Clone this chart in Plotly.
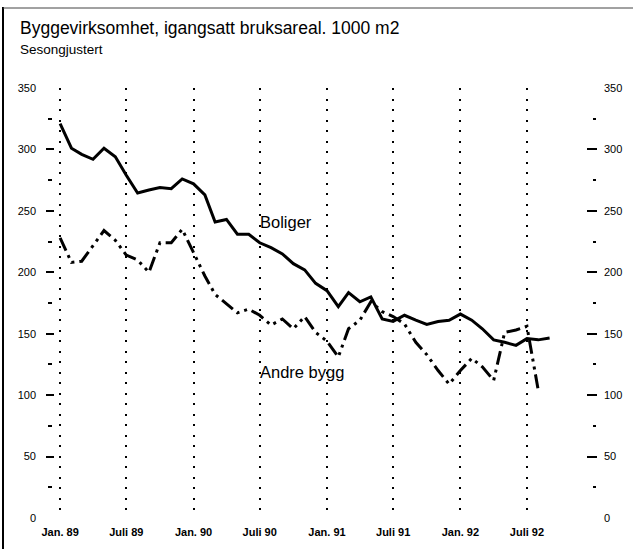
import plotly.graph_objects as go
import pandas as pd

# ---- data ----
months_boliger = pd.date_range("1989-01-01", periods=45, freq="MS")
months_andre = pd.date_range("1989-01-01", periods=44, freq="MS")

boliger = [321, 301, 296, 292, 301, 294, 279, 264.5, 267, 269, 268, 276, 272, 263,
           241, 243, 231, 231, 224, 220, 215, 207, 202, 191, 185, 172, 183.5, 176,
           180, 162, 160, 165, 161, 157.5, 160, 161, 166, 161, 154, 145, 143, 140.5,
           146, 145, 146.5]
andre_bygg = [228, 208, 209, 222, 234, 226, 214, 210, 200, 224, 224, 235, 216, 197,
              182, 174, 167, 170, 165, 157, 162, 154, 164, 151, 144, 131, 154, 161,
              176, 168, 164, 158, 143, 133, 120, 109, 120, 130, 123, 112, 151, 153,
              156, 104]

x_tickvals = ["1989-01-01", "1989-07-01", "1990-01-01", "1990-07-01",
              "1991-01-01", "1991-07-01", "1992-01-01", "1992-07-01"]
x_ticktext = ["Jan. 89", "Juli 89", "Jan. 90", "Juli 90",
              "Jan. 91", "Juli 91", "Jan. 92", "Juli 92"]
y_labels = [0, 50, 100, 150, 200, 250, 300, 350]
y_major = [50, 100, 150, 200, 250, 300]
y_minor = [25, 75, 125, 175, 225, 275, 325]

title = "Byggevirksomhet, igangsatt bruksareal. 1000 m2"
subtitle = "Sesongjustert"

FONT = "Liberation Sans, Arial, Helvetica, sans-serif"

W, H = 633, 549
ML, MR, MT, MB = 10, 10, 88, 31
PW = W - ML - MR
PH = H - MT - MB


def px_x(p):
    return (p - ML) / PW


def px_y(p):
    return (H - MB - p) / PH


fig = go.Figure()

fig.add_trace(go.Scatter(x=months_boliger, y=boliger, mode="lines",
                         line=dict(color="black", width=3), showlegend=False,
                         hoverinfo="skip"))
fig.add_trace(go.Scatter(x=months_andre, y=andre_bygg, mode="lines",
                         line=dict(color="black", width=3,
                                   dash="14px,5px,3px,5px,3px,5px"),
                         showlegend=False, hoverinfo="skip"))
# invisible traces to bind the extra axes
for ya in ["y2", "y3", "y4"]:
    fig.add_trace(go.Scatter(x=[months_boliger[0]], y=[0], yaxis=ya, mode="markers",
                             marker=dict(opacity=0), showlegend=False, hoverinfo="skip"))

fig.add_annotation(x="1990-06-25", y=240.6, text="Boliger", showarrow=False,
                   xanchor="left", yanchor="middle",
                   font=dict(family=FONT, size=16.5, color="black"))
fig.add_annotation(x="1990-06-25", y=118.7, text="Andre bygg", showarrow=False,
                   xanchor="left", yanchor="middle",
                   font=dict(family=FONT, size=16.5, color="black"))

fig.add_annotation(xref="paper", yref="paper", x=px_x(18), y=px_y(16),
                   text=title, showarrow=False, xanchor="left", yanchor="top",
                   font=dict(family=FONT, size=17.5, color="black"))
fig.add_annotation(xref="paper", yref="paper", x=px_x(18), y=px_y(40),
                   text=subtitle, showarrow=False, xanchor="left", yanchor="top",
                   font=dict(family=FONT, size=13.5, color="black"))

# frame (left and top edges, as in the scanned original)
fig.add_shape(type="line", xref="paper", yref="paper",
              x0=px_x(3), x1=px_x(3), y0=px_y(549), y1=px_y(7),
              line=dict(color="black", width=2))
fig.add_shape(type="line", xref="paper", yref="paper",
              x0=px_x(3), x1=px_x(633), y0=px_y(8), y1=px_y(8),
              line=dict(color="#444444", width=1))

axis_font = dict(family=FONT, size=11, color="black")

fig.update_layout(
    width=W, height=H,
    margin=dict(l=ML, r=MR, t=MT, b=MB, autoexpand=False),
    paper_bgcolor="white", plot_bgcolor="white",
    font=dict(family=FONT, color="black"),
    xaxis=dict(domain=[px_x(55), px_x(586)], automargin=False, color="black",
               range=["1988-12-18", "1992-12-09 14:00"],
               tickvals=x_tickvals, ticktext=x_ticktext,
               tickfont=dict(family=FONT, size=11, color="black", weight="bold"),
               ticks="", showline=False, zeroline=False,
               showgrid=True, gridcolor="black", gridwidth=2,
               griddash="2px,8.5px", ticklabelstandoff=6),
    yaxis=dict(range=[0, 350], tickvals=y_major, showticklabels=False,
               automargin=False, color="black",
               ticks="outside", ticklen=8, tickwidth=2, tickcolor="black",
               showgrid=False, zeroline=False, showline=False),
    yaxis2=dict(range=[0, 350], overlaying="y", anchor="free", color="black",
                position=px_x(47), side="left", automargin=False,
                tickvals=y_labels, ticktext=[str(v) for v in y_labels],
                ticks="", tickfont=dict(axis_font), ticklabelstandoff=11,
                minor=dict(tickvals=y_minor, ticks="inside", ticklen=4,
                           tickwidth=2, tickcolor="black", showgrid=False),
                showgrid=False, zeroline=False, showline=False),
    yaxis3=dict(range=[0, 350], overlaying="y", anchor="x", side="right",
                automargin=False, color="black",
                tickvals=y_labels, ticktext=[str(v) for v in y_labels],
                ticks="", tickfont=dict(axis_font), ticklabelstandoff=17,
                minor=dict(tickvals=y_major, ticks="outside", ticklen=10,
                           tickwidth=2, tickcolor="black", showgrid=False),
                showgrid=False, zeroline=False, showline=False),
    yaxis4=dict(range=[0, 350], overlaying="y", anchor="free", color="black",
                position=px_x(596), side="right", automargin=False,
                tickvals=y_labels, showticklabels=False, ticks="",
                minor=dict(tickvals=y_minor, ticks="inside", ticklen=3,
                           tickwidth=2, tickcolor="black", showgrid=False),
                showgrid=False, zeroline=False, showline=False),
)

fig.write_html("out.html", config={"displayModeBar": False},
               post_script="document.body.style.margin='0px';")
